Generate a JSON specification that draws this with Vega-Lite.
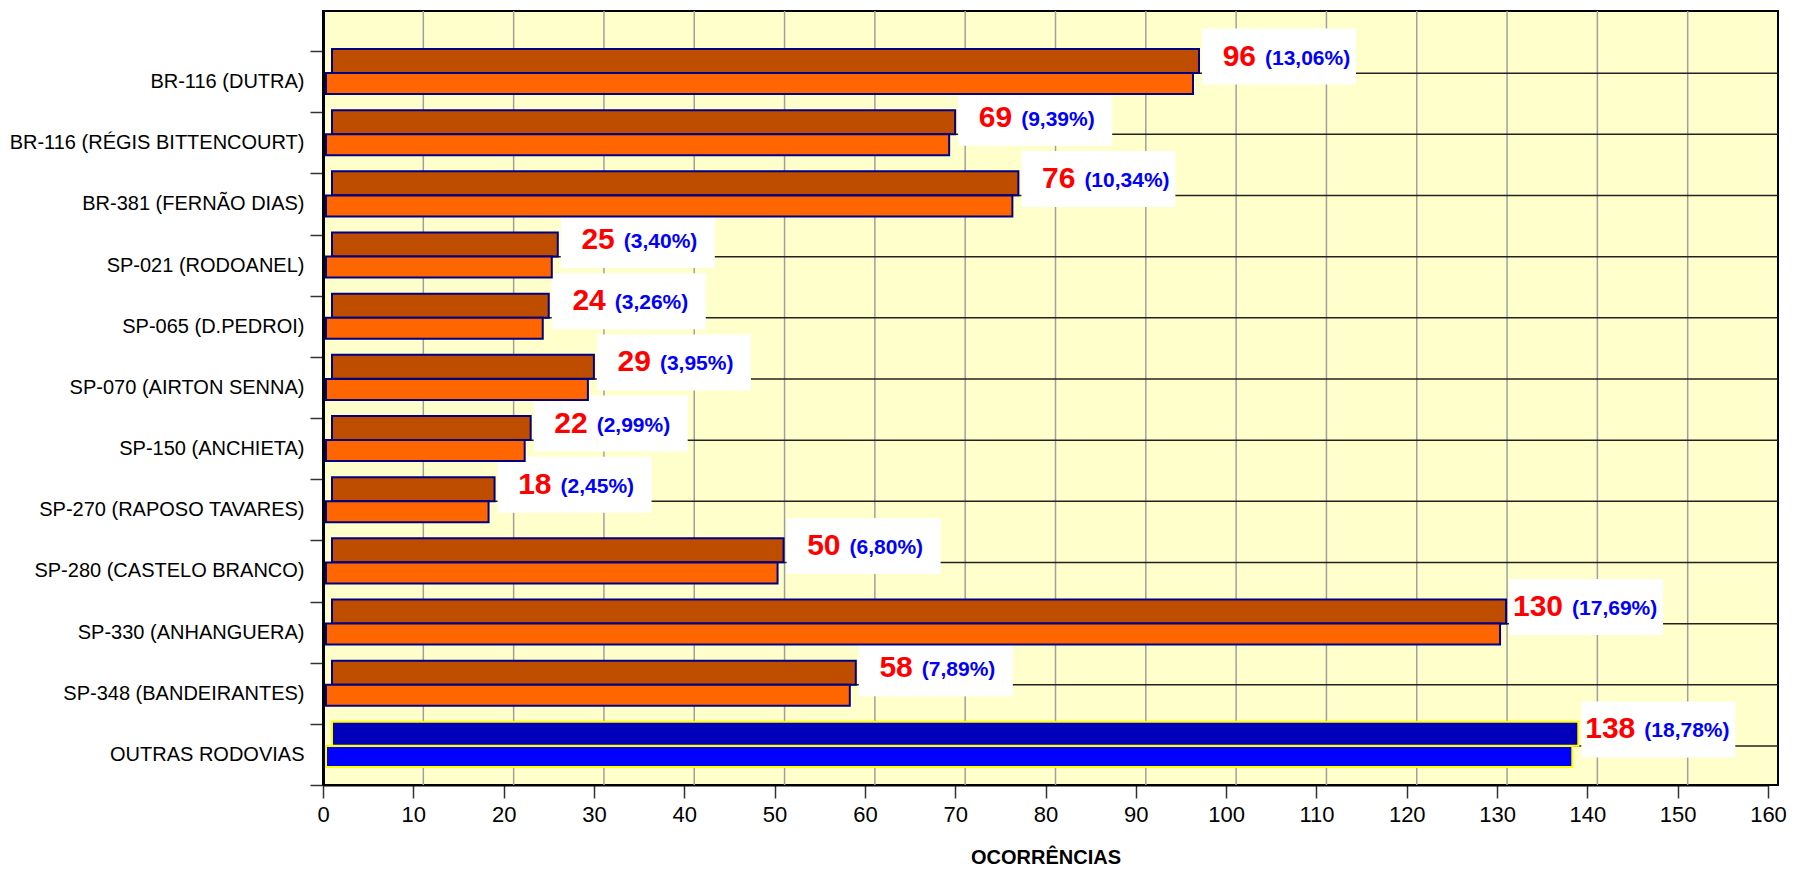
{
  "$schema": "https://vega.github.io/schema/vega-lite/v6.json",
  "width": 1455,
  "height": 774,
  "autosize": {"type": "none"},
  "padding": {"left": 323, "top": 11, "right": 15, "bottom": 88},
  "background": "white",
  "config": {
    "view": {"fill": "#FFFFCC", "stroke": "#000000", "strokeWidth": 2},
    "font": "Liberation Sans"
  },
  "datasets": {
    "main": [
      {"Rodovia": "BR-116 (DUTRA)", "valor": 96, "pct": "(13,06%)"},
      {"Rodovia": "BR-116 (RÉGIS BITTENCOURT)", "valor": 69, "pct": "(9,39%)"},
      {"Rodovia": "BR-381 (FERNÃO DIAS)", "valor": 76, "pct": "(10,34%)"},
      {"Rodovia": "SP-021 (RODOANEL)", "valor": 25, "pct": "(3,40%)"},
      {"Rodovia": "SP-065 (D.PEDROI)", "valor": 24, "pct": "(3,26%)"},
      {"Rodovia": "SP-070 (AIRTON SENNA)", "valor": 29, "pct": "(3,95%)"},
      {"Rodovia": "SP-150 (ANCHIETA)", "valor": 22, "pct": "(2,99%)"},
      {"Rodovia": "SP-270 (RAPOSO TAVARES)", "valor": 18, "pct": "(2,45%)"},
      {"Rodovia": "SP-280 (CASTELO BRANCO)", "valor": 50, "pct": "(6,80%)"},
      {"Rodovia": "SP-330 (ANHANGUERA)", "valor": 130, "pct": "(17,69%)"},
      {"Rodovia": "SP-348 (BANDEIRANTES)", "valor": 58, "pct": "(7,89%)"},
      {"Rodovia": "OUTRAS RODOVIAS", "valor": 138, "pct": "(18,78%)"}
    ],
    "grid": [
      {"g": 10}, {"g": 20}, {"g": 30}, {"g": 40}, {"g": 50}, {"g": 60}, {"g": 70}, {"g": 80},
      {"g": 90}, {"g": 100}, {"g": 110}, {"g": 120}, {"g": 130}, {"g": 140}, {"g": 150}
    ]
  },
  "layer": [
    {
      "data": {"name": "grid"},
      "mark": {"type": "rule", "color": "#A0A0A0", "strokeWidth": 1.5, "xOffset": 10},
      "encoding": {
        "x": {"field": "g", "type": "quantitative"}
      }
    },
    {
      "data": {"name": "main"},
      "mark": {"type": "rule", "color": "#222222", "strokeWidth": 1.5, "xOffset": 10, "x2Offset": 10, "yOffset": -8.4},
      "encoding": {
        "y": {"field": "Rodovia", "type": "nominal", "sort": null},
        "x": {"datum": 0, "type": "quantitative"},
        "x2": {"datum": 160}
      }
    },
    {
      "data": {"name": "main"},
      "mark": {"type": "bar", "fill": "#FFFFFF", "height": 56, "yOffset": -25, "xOffset": 12, "x2Offset": 166},
      "encoding": {
        "y": {"field": "Rodovia", "type": "nominal", "sort": null},
        "x": {"field": "valor", "type": "quantitative"},
        "x2": {"field": "valor"}
      }
    },
    {
      "data": {"name": "main"},
      "mark": {"type": "bar", "height": 24, "yOffset": -20.6, "xOffset": 9, "x2Offset": 9, "strokeWidth": 2},
      "encoding": {
        "y": {"field": "Rodovia", "type": "nominal", "sort": null},
        "x": {"field": "valor", "type": "quantitative"},
        "fill": {"condition": {"test": "datum.Rodovia === 'OUTRAS RODOVIAS'", "value": "#0000BB"}, "value": "#BF4D00"},
        "stroke": {"condition": {"test": "datum.Rodovia === 'OUTRAS RODOVIAS'", "value": "#FFFF00"}, "value": "#000080"}
      }
    },
    {
      "data": {"name": "main"},
      "mark": {"type": "bar", "height": 21, "yOffset": 2, "xOffset": 3, "x2Offset": 3, "strokeWidth": 2},
      "encoding": {
        "y": {"field": "Rodovia", "type": "nominal", "sort": null},
        "x": {"field": "valor", "type": "quantitative"},
        "fill": {"condition": {"test": "datum.Rodovia === 'OUTRAS RODOVIAS'", "value": "#0000FF"}, "value": "#FF6600"},
        "stroke": {"condition": {"test": "datum.Rodovia === 'OUTRAS RODOVIAS'", "value": "#FFFF00"}, "value": "#000080"}
      }
    },
    {
      "data": {"name": "main"},
      "mark": {"type": "text", "align": "right", "baseline": "middle", "xOffset": 66, "yOffset": -25, "font": "Liberation Sans", "fontSize": 30, "fontWeight": "bold", "color": "#FF0000"},
      "encoding": {
        "y": {"field": "Rodovia", "type": "nominal", "sort": null},
        "x": {"field": "valor", "type": "quantitative"},
        "text": {"field": "valor", "type": "quantitative"}
      }
    },
    {
      "data": {"name": "main"},
      "mark": {"type": "text", "align": "left", "baseline": "middle", "xOffset": 75, "yOffset": -23, "font": "Liberation Sans", "fontSize": 21, "fontWeight": "bold", "color": "#0000FF"},
      "encoding": {
        "y": {
          "field": "Rodovia", "type": "nominal", "sort": null,
          "scale": {"paddingInner": 0, "paddingOuter": 0.327, "align": 1},
          "axis": {
            "title": null, "labelFont": "Liberation Sans", "labelFontSize": 20, "labelColor": "#000000",
            "labelPadding": 6, "tickSize": 13, "tickColor": "#333333", "tickWidth": 1.5, "tickBand": "extent",
            "domainColor": "#000000", "domainWidth": 3, "grid": false, "labelLimit": 400
          }
        },
        "x": {
          "field": "valor", "type": "quantitative",
          "scale": {"domain": [0, 160], "nice": false, "range": [0, 1445]},
          "axis": {
            "title": "OCORRÊNCIAS", "titleFont": "Liberation Sans", "titleFontSize": 20, "titleFontWeight": "bold",
            "titleColor": "#000000", "titlePadding": 22,
            "values": [0, 10, 20, 30, 40, 50, 60, 70, 80, 90, 100, 110, 120, 130, 140, 150, 160],
            "labelFont": "Liberation Sans", "labelFontSize": 22, "labelColor": "#000000", "labelPadding": 6,
            "tickSize": 13, "tickColor": "#333333", "tickWidth": 1.5, "domainColor": "#000000", "domainWidth": 2,
            "grid": false, "labelFlush": false
          }
        },
        "text": {"field": "pct", "type": "nominal"}
      }
    }
  ]
}
